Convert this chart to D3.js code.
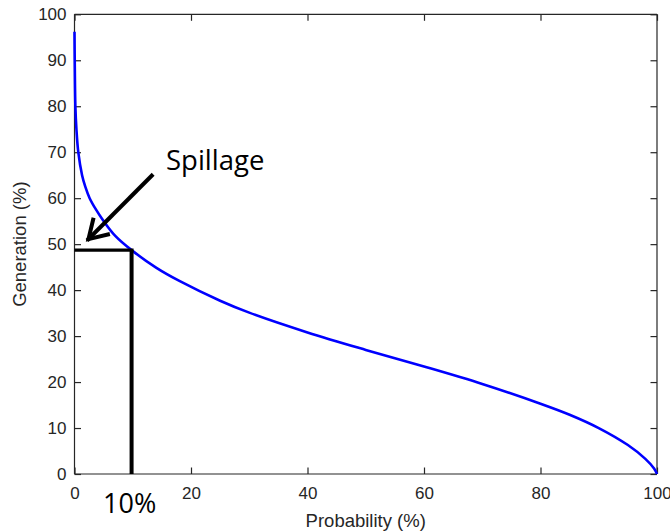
<!DOCTYPE html>
<html>
<head>
<meta charset="utf-8">
<script src="https://cdn.jsdelivr.net/npm/d3@7"></script>
<style>
	body { margin: 0; background: #fff; }
</style>
</head>
<body>
<script>
var probability = [0, 0.04, 0.15, 0.33, 0.65, 1.3, 1.85, 2.6, 3.7, 4.9, 7, 9.8, 14, 18, 25, 30, 40, 50, 60, 70, 80, 85, 90, 95, 98, 99.5, 100];
var generation  = [96.2, 90, 80, 75, 70, 65, 62.5, 60, 57.5, 55.2, 51.8, 48.7, 44.9, 42, 37.7, 35.1, 30.8, 27.0, 23.4, 19.6, 15.3, 12.9, 10.0, 6.3, 3.3, 1.2, 0];
var xTicks = [0, 20, 40, 60, 80, 100];
var yTicks = [0, 10, 20, 30, 40, 50, 60, 70, 80, 90, 100];

// annotation: 10% probability -> generation level
var markProb = 9.8, markGen = 48.7;
var arrowFrom = [13.5, 65.2], arrowTo = [2.4, 51.1];

var W = 670, H = 531;
var plotL = 74.5, plotR = 657, plotT = 14.3, plotB = 474;
var axisColor = "#262626";

var svg = d3.select("body")
			.append("svg")
			.attr("width", W)
			.attr("height", H);

var x = d3.scaleLinear().domain([0, 100]).range([plotL, plotR]);
var y = d3.scaleLinear().domain([0, 100]).range([plotB, plotT]);

// bottom / top / left / right axes, ticks pointing inward
var gx = svg.append("g")
			.attr("transform", "translate(0," + plotB + ")")
			.call(d3.axisBottom(x).tickValues(xTicks).tickSize(-6.5).tickPadding(13));
var gxTop = svg.append("g")
			.attr("transform", "translate(0," + plotT + ")")
			.call(d3.axisTop(x).tickValues(xTicks).tickSize(-6.5).tickFormat(""));
var gy = svg.append("g")
			.attr("transform", "translate(" + plotL + ",0)")
			.call(d3.axisLeft(y).tickValues(yTicks).tickSize(-6.5).tickPadding(8));
var gyRight = svg.append("g")
			.attr("transform", "translate(" + plotR + ",0)")
			.call(d3.axisRight(y).tickValues(yTicks).tickSize(-6.5).tickFormat(""));

[gx, gxTop, gy, gyRight].forEach(function(g){
	g.selectAll("path").attr("stroke", axisColor).attr("stroke-width", 1.2);
	g.selectAll("line").attr("stroke", axisColor).attr("stroke-width", 1.2);
	g.selectAll("text")
		.attr("fill", axisColor)
		.style("font-family", "'Liberation Sans', Arial, sans-serif")
		.style("font-size", "17px");
});
// no outer end ticks on the box
gx.select("path").attr("d", "M" + plotL + ",0H" + plotR);
gxTop.select("path").attr("d", "M" + plotL + ",0H" + plotR);
gy.select("path").attr("d", "M0," + plotB + "V" + plotT);
gyRight.select("path").attr("d", "M0," + plotB + "V" + plotT);

// axis labels
svg.append("text")
	.text("Probability (%)")
	.attr("x", (plotL + plotR) / 2)
	.attr("y", 527)
	.attr("text-anchor", "middle")
	.attr("fill", axisColor)
	.style("font-family", "'Liberation Sans', Arial, sans-serif")
	.style("font-size", "18.5px");

svg.append("text")
	.text("Generation (%)")
	.attr("transform", "translate(26," + ((plotT + plotB) / 2) + ") rotate(-90)")
	.attr("text-anchor", "middle")
	.attr("fill", axisColor)
	.style("font-family", "'Liberation Sans', Arial, sans-serif")
	.style("font-size", "18.5px");

// the curve
var line = d3.line()
			.x(function(d){ return x(d[0]); })
			.y(function(d){ return y(d[1]); })
			.curve(d3.curveCatmullRom.alpha(0.5));

var pts = probability.map(function(p, i){ return [p, generation[i]]; });

svg.append("path")
	.datum(pts)
	.attr("d", line)
	.attr("fill", "none")
	.attr("stroke", "#0000ff")
	.attr("stroke-width", 2.6);

// black annotation lines
svg.append("line")
	.attr("x1", x(0)).attr("y1", y(markGen))
	.attr("x2", x(markProb) + 2).attr("y2", y(markGen))
	.attr("stroke", "#000").attr("stroke-width", 3.4);
svg.append("line")
	.attr("x1", x(markProb)).attr("y1", y(markGen))
	.attr("x2", x(markProb)).attr("y2", y(0))
	.attr("stroke", "#000").attr("stroke-width", 4);

// arrow
var ax1 = x(arrowFrom[0]), ay1 = y(arrowFrom[1]);
var ax2 = x(arrowTo[0]), ay2 = y(arrowTo[1]);
var ang = Math.atan2(ay2 - ay1, ax2 - ax1);
var headLen = 22, headAng = 0.55;

svg.append("line")
	.attr("x1", ax1).attr("y1", ay1)
	.attr("x2", ax2 + 2 * Math.cos(ang)).attr("y2", ay2 + 2 * Math.sin(ang))
	.attr("stroke", "#000").attr("stroke-width", 4);
svg.append("path")
	.attr("d", "M" + (ax2 - headLen * Math.cos(ang - headAng)) + "," + (ay2 - headLen * Math.sin(ang - headAng))
		+ "L" + ax2 + "," + ay2
		+ "L" + (ax2 - headLen * Math.cos(ang + headAng)) + "," + (ay2 - headLen * Math.sin(ang + headAng)))
	.attr("fill", "none")
	.attr("stroke", "#000")
	.attr("stroke-width", 4)
	.attr("stroke-linejoin", "miter");

svg.append("text")
	.text("Spillage")
	.attr("x", 166)
	.attr("y", 170)
	.attr("fill", "#000")
	.style("font-family", "'Open Sans', sans-serif")
	.style("font-size", "27.5px");

svg.append("text")
	.text("10%")
	.attr("x", 103)
	.attr("y", 513)
	.attr("fill", "#000")
	.style("font-family", "'Open Sans', sans-serif")
	.style("font-size", "27px");
</script>
</body>
</html>
